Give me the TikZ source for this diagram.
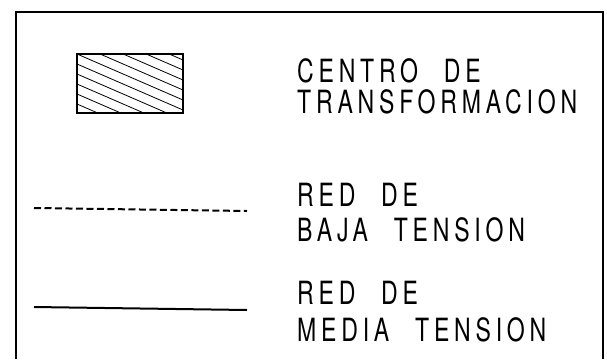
\documentclass[tikz,border=0pt]{standalone}
\usepackage{fontspec}
\setmainfont{TeX Gyre Heros}[FakeStretch=0.72, LetterSpace=15, WordSpace=2.3]
\usetikzlibrary{positioning}

\tikzset{
	legendtext/.style={anchor=base west, inner sep=0pt, font=\fontsize{32}{32}\selectfont},
	hatchline/.style={line width=0.8pt},
}

\begin{document}
\begin{tikzpicture}[x=1pt, y=-1pt, line join=miter]
	\useasboundingbox (0,0) rectangle (607,359);
	% marco
	\draw[line width=1.5pt] (16,359) -- (16,12) -- (603,12) -- (603,359);
	% centro de transformacion
	\begin{scope}
		\clip (77,54) rectangle (183,113);
		\foreach \c in {-60,-50,...,60}
			\draw[hatchline] (77,54+\c) -- (183,54+\c+46);
	\end{scope}
	\draw[line width=2.6pt] (77,54) rectangle (183,113);
	\node[legendtext] (ctA) at (297,82) {CENTRO DE};
	\node[legendtext] (ctB) at (297,113) {TRANSFORMACION};
	% baja tension
	\coordinate (btL) at (34,208);
	\coordinate (btR) at (247,211);
	\draw[line width=2pt, dash pattern=on 7pt off 3.5pt] (btL) -- (btR);
	\node[legendtext] (btA) at (297,206) {RED DE};
	\node[legendtext] (btB) at (297,241) {BAJA TENSION};
	% media tension
	\coordinate (mtL) at (34,307);
	\coordinate (mtR) at (247,310);
	\draw[line width=2pt] (mtL) -- (mtR);
	\node[legendtext] (mtA) at (297,304) {RED DE};
	\node[legendtext] (mtB) at (297,341) {MEDIA TENSION};
\end{tikzpicture}
\end{document}
